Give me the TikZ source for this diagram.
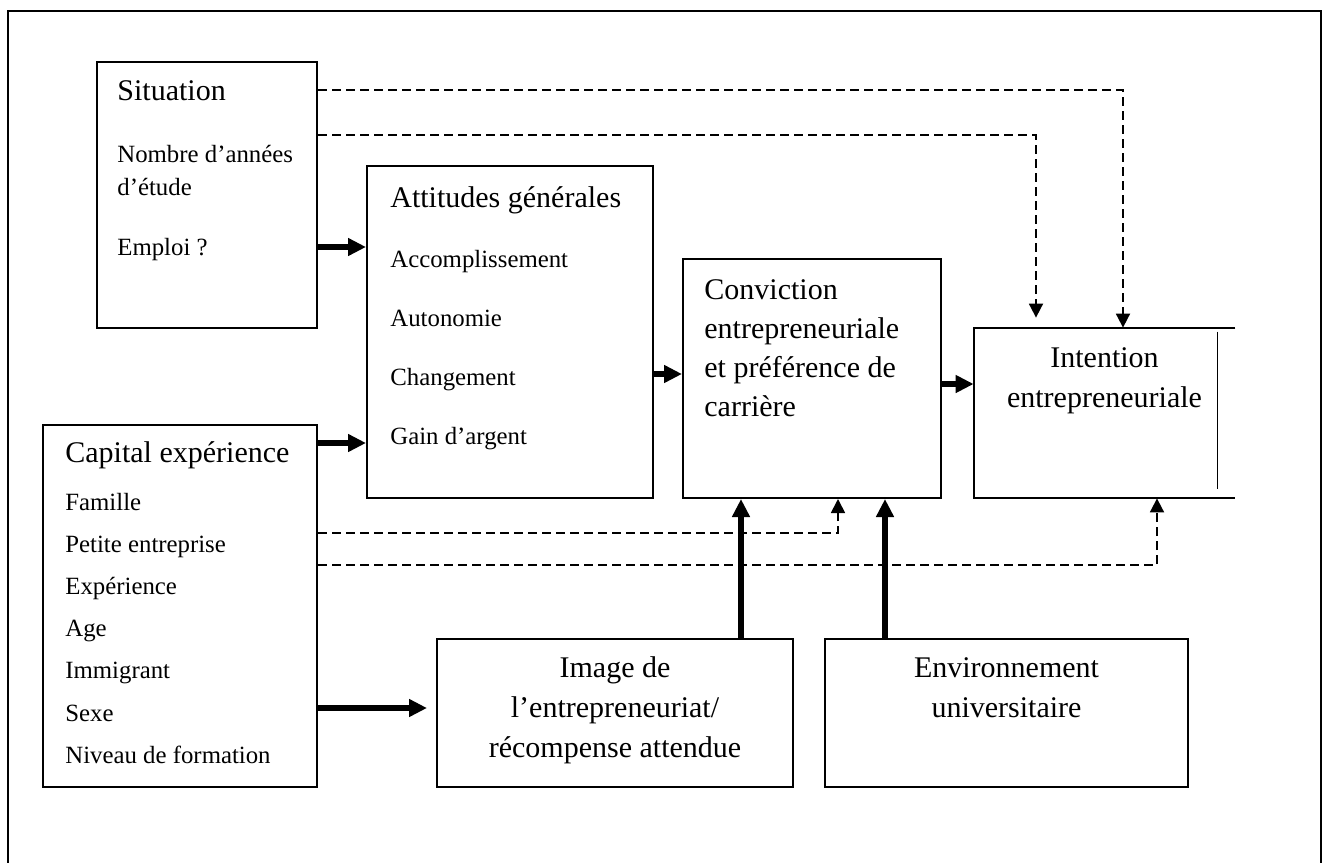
\documentclass[tikz,border=0pt]{standalone}
\usepackage{fontspec}
\setmainfont{Liberation Serif}
\usetikzlibrary{arrows.meta, calc}

\tikzset{
  box/.style={draw, line width=1pt, inner sep=0pt},
  head/.style={inner sep=0pt, anchor=base west, font=\fontsize{15}{18}\selectfont},
  item/.style={inner sep=0pt, anchor=base west, font=\fontsize{12.4}{15}\selectfont},
  bigarr/.style={line width=2.6pt, -{Triangle[length=9pt,width=8.5pt]}},
  dasharr/.style={line width=0.9pt, dash pattern=on 4.5pt off 2.5pt,
    -{Triangle[length=7pt,width=7pt]}},
}

\begin{document}
\begin{tikzpicture}[x=0.5pt, y=-0.5pt]
  \useasboundingbox (0,0) rectangle (1324,863);

  % frame, open at the bottom
  \draw[line width=1pt] (8,863) -- (8,11) -- (1321,11) -- (1321,863);

  % boxes
  \node[box, minimum width=110pt, minimum height=133pt] (sit) at (207,195) {};
  \node[box, minimum width=143pt, minimum height=166pt] (att) at (510,332) {};
  \node[box, minimum width=129pt, minimum height=119.5pt] (conv) at (812,378.5) {};
  \node[inner sep=0pt, minimum width=130.5pt, minimum height=85pt] (int) at (1104.5,413) {};
  \node[box, minimum width=137pt, minimum height=181pt] (cap) at (180,606) {};
  \node[box, minimum width=178pt, minimum height=74pt] (img) at (615,713) {};
  \node[box, minimum width=181.5pt, minimum height=74pt] (env) at (1006.5,713) {};

  \draw[line width=1pt] (int.north east) -- (int.north west)
    -- (int.south west) -- (int.south east);
  \draw[line width=0.6pt] ($(int.north east)+(-18,4)$) -- ($(int.south east)+(-18,-9)$);

  % texts
  \node[head] (sitT) at (117,100) {Situation};
  \node[item] (sit1) at (117,162) {Nombre d'années};
  \node[item] (sit2) at (117,195) {d'étude};
  \node[item] (sit3) at (117,255) {Emploi ?};

  \node[head] (attT) at (390,207) {Attitudes générales};
  \foreach \lbl [count=\i] in {Accomplissement, Autonomie, Changement, Gain d'argent}
    \node[item] (att\i) at (390,{267+59.3*(\i-1)}) {\lbl};

  \node[head] (capT) at (65,462) {Capital expérience};
  \foreach \lbl [count=\i] in {Famille, Petite entreprise, Expérience, Age,
      Immigrant, Sexe, Niveau de formation}
    \node[item] (cap\i) at (65,{510+42.2*(\i-1)}) {\lbl};

  \foreach \lbl [count=\i] in {Conviction, entrepreneuriale, et préférence de, carrière}
    \node[head] (conv\i) at (704,{299+39.3*(\i-1)}) {\lbl};

  \node[head, anchor=base] (int1) at (1104.5,367) {Intention};
  \node[head, anchor=base] (int2) at (1104.5,407) {entrepreneuriale};

  \node[head, anchor=base] (img1) at (615,677) {Image de};
  \node[head, anchor=base] (img2) at (615,717) {l'entrepreneuriat/};
  \node[head, anchor=base] (img3) at (615,757) {récompense attendue};

  \node[head, anchor=base] (env1) at (1006.5,677) {Environnement};
  \node[head, anchor=base] (env2) at (1006.5,717) {universitaire};

  % levels of the links
  \coordinate (t1) at (0,247);
  \coordinate (t2) at (0,443);
  \coordinate (t3) at (0,374);
  \coordinate (t4) at (0,384);
  \coordinate (t5) at (0,708);
  \coordinate (t6) at (741,0);
  \coordinate (t7) at (885,0);
  \coordinate (d1) at (1123,90);
  \coordinate (d2) at (1036,135);
  \coordinate (d3) at (838,533);
  \coordinate (d4) at (1157,565);

  % solid links
  \draw[bigarr] (sit.east |- t1) -- (att.west |- t1);
  \draw[bigarr] (cap.east |- t2) -- (att.west |- t2);
  \draw[bigarr] (att.east |- t3) -- (conv.west |- t3);
  \draw[bigarr] (conv.east |- t4) -- (int.west |- t4);
  \draw[bigarr] (cap.east |- t5) -- ($(img.west |- t5)+(-9,0)$);
  \draw[bigarr] (img.north -| t6) -- (conv.south -| t6);
  \draw[bigarr] (env.north -| t7) -- (conv.south -| t7);

  % dashed links
  \draw[dasharr] (sit.east |- d1) -| (int.north -| d1);
  \draw[dasharr] (sit.east |- d2) -| ($(int.north -| d2)+(0,-10)$);
  \draw[dasharr] (cap.east |- d3) -| (conv.south -| d3);
  \draw[dasharr] (cap.east |- d4) -| (int.south -| d4);
\end{tikzpicture}
\end{document}
